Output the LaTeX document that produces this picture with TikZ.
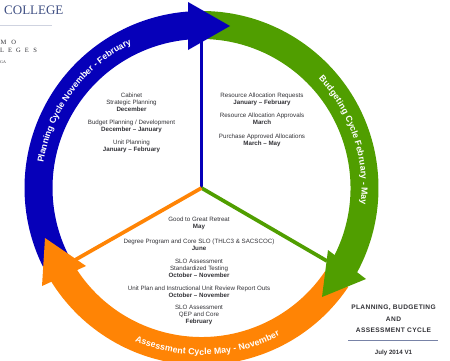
\documentclass[tikz,border=0pt]{standalone}
\usepackage{fontspec}
\setmainfont{Liberation Sans}
\newfontfamily\seriffont{Liberation Serif}
\usetikzlibrary{calc}
\usetikzlibrary{decorations.text}
\definecolor{cycleblue}{RGB}{6,0,185}
\definecolor{cyclegreen}{RGB}{80,158,0}
\definecolor{cycleorange}{RGB}{255,132,5}
\definecolor{textgray}{RGB}{50,50,55}
\definecolor{collegeblue}{RGB}{62,78,130}
\tikzstyle{blueline}=[draw=cycleblue,line width=3.7pt]
\tikzstyle{greenline}=[draw=cyclegreen,line width=3.7pt]
\tikzstyle{orangeline}=[draw=cycleorange,line width=3.7pt]
\tikzstyle{cycletext}=[text=textgray,align=center,inner sep=0pt,font=\fontsize{6.2}{7}\selectfont]
\tikzstyle{titletext}=[text=textgray,inner sep=0pt,font=\fontsize{6.6}{8}\selectfont\bfseries\addfontfeature{LetterSpace=6}]
\tikzstyle{versiontext}=[text=textgray,inner sep=0pt,font=\fontsize{6.2}{8}\selectfont\bfseries]
\tikzstyle{marktext}=[inner sep=0pt,anchor=west,text=textgray,font=\fontsize{6.5}{7}\seriffont]
\tikzset{ringtext/.style={decorate,decoration={text along path,text color=white,text align={fit to path},
  text={|\fontsize{8.8}{10}\selectfont\bfseries|#1}}}}

\begin{document}
\begin{tikzpicture}[x=1pt,y=1pt]
  \useasboundingbox (0,0) rectangle (450,360);
  \coordinate (hub) at (201.5,172);
  \coordinate (bluetip) at (230,334);
  \coordinate (bluetop) at (188,358);
  \coordinate (bluelow) at (188,310);
  \coordinate (blueend) at (201.5,320);
  \coordinate (greentip) at (322,63);
  \coordinate (greentop) at (328,110);
  \coordinate (greenlow) at (366,81);
  \coordinate (greenend) at (327,99);
  \coordinate (orangetip) at (45,122);
  \coordinate (orangetop) at (86,94);
  \coordinate (orangelow) at (42,74);
  \coordinate (orangeend) at (75,100);

  % ring bodies
  \fill[cycleblue] (hub) ++(207:177) arc (207:92:177) -- ($(hub)+(92:149)$) arc (92:207:149) -- cycle;
  \fill[cyclegreen] (hub) ++(94:177) arc (94:-32:177) -- ($(hub)+(-32:149)$) arc (-32:94:149) -- cycle;
  \fill[cycleorange] (hub) ++(-34:177) arc (-34:-150:177) -- ($(hub)+(-150:149)$) arc (-150:-34:149) -- cycle;

  % spokes
  \draw[blueline] (hub) -- (blueend);
  \draw[greenline] (hub) -- (greenend);
  \draw[orangeline] (hub) -- (orangeend);

  % arrow heads
  \fill[cycleblue] (bluetop) -- (bluetip) -- (bluelow) -- cycle;
  \fill[cyclegreen] (greentop) -- (greentip) -- (greenlow) -- cycle;
  \fill[cycleorange] (orangetop) -- (orangetip) -- (orangelow) -- cycle;

  % ring labels
  \path[ringtext={Planning Cycle November - February}] (hub) ++(171:160) arc (171:116:160);
  \path[ringtext={Budgeting Cycle February - May}] (hub) ++(43:160) arc (43:-6:160);
  \path[ringtext={Assessment Cycle May - November}] (hub) ++(246.5:167) arc (246.5:298:167);

  % planning
  \node[cycletext] (cabinet) at (131.5,258) {Cabinet\\Strategic Planning\\\textbf{December}};
  \node[cycletext] (budget) at (131.5,234) {Budget Planning / Development\\\textbf{December – January}};
  \node[cycletext] (unit) at (131.5,213.5) {Unit Planning\\\textbf{January – February}};

  % budgeting
  \node[cycletext] (requests) at (262,261) {Resource Allocation Requests\\\textbf{January – February}};
  \node[cycletext] (approvals) at (262,241) {Resource Allocation Approvals\\\textbf{March}};
  \node[cycletext] (purchase) at (262,220) {Purchase Approved Allocations\\\textbf{March – May}};

  % assessment
  \node[cycletext] (retreat) at (199,136.5) {Good to Great Retreat\\\textbf{May}};
  \node[cycletext] (degree) at (199,115.5) {Degree Program and Core SLO (THLC3 \& SACSCOC)\\\textbf{June}};
  \node[cycletext] (testing) at (199,92) {SLO Assessment\\Standardized Testing\\\textbf{October – November}};
  \node[cycletext] (outs) at (199,68.5) {Unit Plan and Instructional Unit Review Report Outs\\\textbf{October – November}};
  \node[cycletext] (qep) at (199,45) {SLO Assessment\\QEP and Core\\\textbf{February}};

  % title
  \node[titletext] (title1) at (393.5,52) {PLANNING, BUDGETING};
  \node[titletext] (title2) at (393.5,40.5) {AND};
  \node[titletext] (title3) at (393.5,29.5) {ASSESSMENT CYCLE};
  \draw[draw=collegeblue!70,line width=0.6pt] (348,20) -- (438,20);
  \node[versiontext] (version) at (393.5,7) {July 2014 V1};

  % college mark
  \node[inner sep=0pt,anchor=west,text=collegeblue,font=\fontsize{13}{14}\seriffont] (college) at (4,350) {COLLEGE};
  \draw[draw=collegeblue!25,line width=1pt] (0,335) -- (52,335);
  \node[marktext] (mo) at (0.5,318) {M\hspace{5pt}O};
  \node[marktext] (leges) at (0,309.5) {L\hspace{4pt}E\hspace{4pt}G\hspace{4pt}E\hspace{4.5pt}S};
  \node[marktext,font=\fontsize{4}{5}\seriffont] (state) at (0,298) {GA};
\end{tikzpicture}
\end{document}
